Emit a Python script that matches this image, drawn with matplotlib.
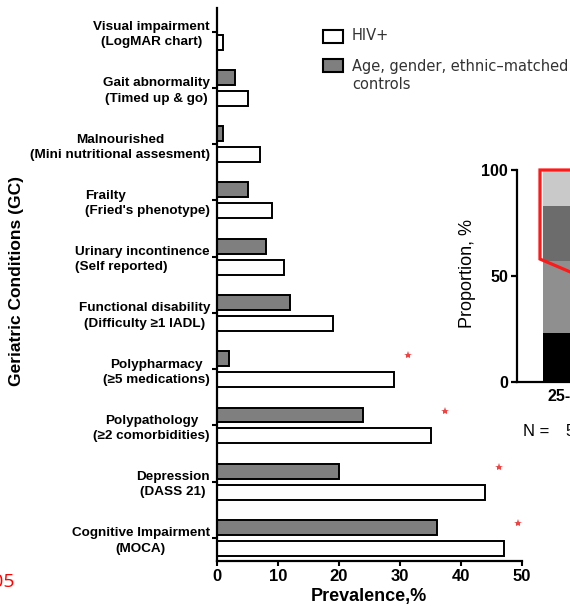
import matplotlib
matplotlib.use('Agg')
import numpy as np
import matplotlib.pyplot as plt
from matplotlib.patches import Rectangle

# ---------------- data ----------------
conditions = ["Cognitive Impairment\n(MOCA)",
              "Depression\n(DASS 21)",
              "Polypathology\n(\u22652 comorbidities)",
              "Polypharmacy\n(\u22655 medications)",
              "Functional disability\n(Difficulty \u22651 IADL)",
              "Urinary incontinence\n(Self reported)",
              "Frailty\n(Fried's phenotype)",
              "Malnourished\n(Mini nutritional assesment)",
              "Gait abnormality\n(Timed up & go)",
              "Visual impairment\n(LogMAR chart)"]
hiv_pos = [47, 44, 35, 29, 19, 11, 9, 7, 5, 1]
controls = [36, 20, 24, 2, 12, 8, 5, 1, 3, 0]
significant = [True, True, True, True, False, False, False, False, False, False]
left_aligned = ["Urinary incontinence\n(Self reported)", "Frailty\n(Fried's phenotype)"]

age_groups = ["25-34"]
age_segments = [23, 34, 26, 17]          # bottom -> top, %
segment_colors = ['#000000', '#8f8f8f', '#6c6c6c', '#c9c9c9']

W, H = 570, 606
bold = dict(family='Liberation Sans', weight='bold')
gray = '#7f7f7f'

fig = plt.figure(figsize=(W / 100, H / 100), dpi=100)

########################## prevalence bars ##########################
ax = fig.add_axes([217 / W, 45 / H, 305 / W, 553 / H])
pos = np.arange(len(conditions))
off, bh = 0.186, 0.265
ax.barh(pos - off, hiv_pos, height=bh, color='white', edgecolor='black', linewidth=1.4)
ax.barh(pos + off, controls, height=bh, color=gray, edgecolor='black', linewidth=1.4)

# significance stars
sig = np.array(significant)
ax.plot(np.array(hiv_pos)[sig] + 2.3, pos[sig] + 0.26, linestyle='none', marker='*',
        markersize=6, color='#ee4444', markeredgewidth=0)

ax.set_xlim(0, 50)
ax.set_ylim(-0.41, 9.42)
ax.set_xticks(range(0, 51, 10))
ax.set_yticks(pos)
ax.set_yticklabels(conditions, fontsize=9.7, linespacing=1.35, **bold)
for lab in ax.get_yticklabels():
    lab.set_multialignment('left' if lab.get_text() in left_aligned else 'center')
for lab in ax.get_xticklabels():
    lab.set_fontsize(12)
    lab.set_fontfamily('Liberation Sans')
    lab.set_fontweight('bold')
ax.tick_params(axis='y', length=3.6, width=1.5, pad=1.5)
ax.tick_params(axis='x', length=3.6, width=1.5, pad=2)
for s in ['top', 'right']:
    ax.spines[s].set_visible(False)
for s in ['left', 'bottom']:
    ax.spines[s].set_linewidth(1.6)

fig.text(369 / W, 1 - 597 / H, "Prevalence,%", ha='center', va='center', fontsize=13, **bold)
fig.text(17 / W, 1 - 281 / H, "Geriatric Conditions (GC)", rotation=90,
         ha='center', va='center', fontsize=12.5, **bold)

# legend
fig.add_artist(Rectangle((323 / W, 1 - 43 / H), 20 / W, 13 / H, transform=fig.transFigure,
                         facecolor='white', edgecolor='black', linewidth=1.5))
fig.add_artist(Rectangle((323 / W, 1 - 72 / H), 20 / W, 13 / H, transform=fig.transFigure,
                         facecolor=gray, edgecolor='black', linewidth=1.5))
fig.text(352 / W, 1 - 36 / H, "HIV+", ha='left', va='center', fontsize=10.5,
         color='#333333', family='DejaVu Sans')
fig.text(352 / W, 1 - 75.5 / H, "Age, gender, ethnic\u2013matched\ncontrols", ha='left',
         va='center', fontsize=10.5, color='#333333', family='DejaVu Sans', linespacing=1.3)

########################## age proportion inset ##########################
ax2 = fig.add_axes([517 / W, 224 / H, 278 / W, 212 / H])
bottom = 0
for val, col in zip(age_segments, segment_colors):
    ax2.bar([0], [val], bottom=bottom, width=0.68, color=col, edgecolor='none')
    bottom += val
ax2.plot([2.6, -0.38, -0.38, 1.5], [100, 100, 58, 30], color='#ff1a1a', linewidth=2.3,
         clip_on=False, solid_joinstyle='miter')
ax2.set_xlim(-0.69, 3.06)
ax2.set_ylim(0, 100)
ax2.set_yticks([0, 50, 100])
ax2.set_xticks(range(len(age_groups)))
ax2.set_xticklabels(age_groups)
for lab in ax2.get_xticklabels() + ax2.get_yticklabels():
    lab.set_fontsize(11.5)
    lab.set_fontfamily('Liberation Sans')
    lab.set_fontweight('bold')
ax2.tick_params(axis='y', length=4.3, width=1.6, pad=2)
ax2.tick_params(axis='x', length=0, pad=5)
for s in ['top', 'right']:
    ax2.spines[s].set_visible(False)
for s in ['left', 'bottom']:
    ax2.spines[s].set_linewidth(1.6)
fig.text(468 / W, 1 - 274 / H, "Proportion, %", rotation=90, ha='center', va='center',
         fontsize=13, family='Liberation Sans')
fig.text(523 / W, 1 - 432 / H, "N =", ha='left', va='center', fontsize=12, family='Liberation Sans')
fig.text(565 / W, 1 - 432 / H, "52", ha='left', va='center', fontsize=12, family='Liberation Sans')

fig.text(15 / W, 1 - 582 / H, "*p<0.05", ha='right', va='center', fontsize=14,
         color='#ff0000', family='Open Sans')

plt.savefig('out.png', dpi=100)
